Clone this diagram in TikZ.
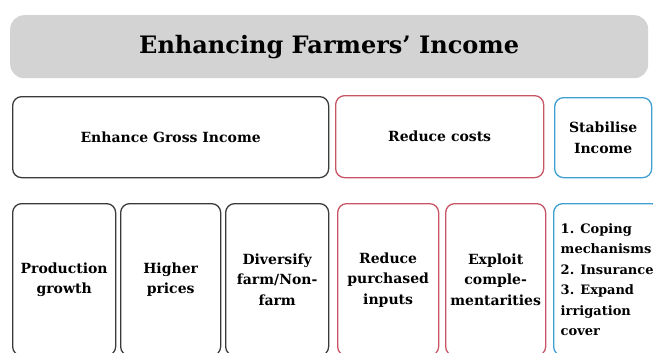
\documentclass[tikz,border=0pt]{standalone}
\usepackage{fontspec}
\setmainfont{DejaVu Serif}

\definecolor{bannergray}{HTML}{D3D3D3}
\definecolor{gainline}{HTML}{3A3A3A}
\definecolor{costline}{HTML}{C85464}
\definecolor{riskline}{HTML}{3E9FD0}

\tikzset{
	box/.style={draw=#1, line width=1.3pt, rounded corners=9pt, anchor=north west,
		align=center, inner sep=2pt, font=\bfseries\fontsize{14}{20.5}\selectfont},
	headbox/.style={box=#1, font=\bfseries\fontsize{14}{21}\selectfont},
}

\begin{document}
\begin{tikzpicture}[x=1pt, y=-1pt]
	\useasboundingbox (0,0) rectangle (653,353);
	\clip (0,0) rectangle (653,353);

	% Banner
	\node[fill=bannergray, rounded corners=14pt, anchor=north west, minimum width=638pt, minimum height=63pt,
		inner sep=0pt, font=\bfseries\fontsize{24}{28}\selectfont] (title) at (10,15) {Enhancing Farmers’ Income};

	% Top row
	\node[headbox=gainline, minimum width=316pt, minimum height=81pt] (gross) at (12,96) {Enhance Gross Income};
	\node[headbox=costline, minimum width=208pt, minimum height=82pt] (costs) at (335,95) {Reduce costs};
	\node[headbox=riskline, minimum width=97pt, minimum height=80pt] (stable) at (554,97) {Stabilise\\Income};

	% Bottom row
	\node[box=gainline, minimum width=103pt, minimum height=152pt] (prod) at (12,203) {Production\\growth};
	\node[box=gainline, minimum width=100pt, minimum height=152pt] (price) at (120,203) {Higher\\prices};
	\node[box=gainline, minimum width=103pt, minimum height=152pt] (divers) at (225,203) {Diversify\\farm/Non-\\farm};
	\node[box=costline, minimum width=101pt, minimum height=152pt] (inputs) at (337,203) {Reduce\\purchased\\inputs};
	\node[box=costline, minimum width=100pt, minimum height=152pt] (compl) at (445,203) {Exploit\\comple-\\mentarities};
	\node[box=riskline, minimum width=107pt, minimum height=152pt, align=left, inner sep=3pt,
		font=\bfseries\fontsize{13}{20.5}\selectfont] (cope) at (553,203)
		{1. Coping\\mechanisms\\2. Insurance\\3. Expand\\irrigation\\cover};
\end{tikzpicture}
\end{document}
